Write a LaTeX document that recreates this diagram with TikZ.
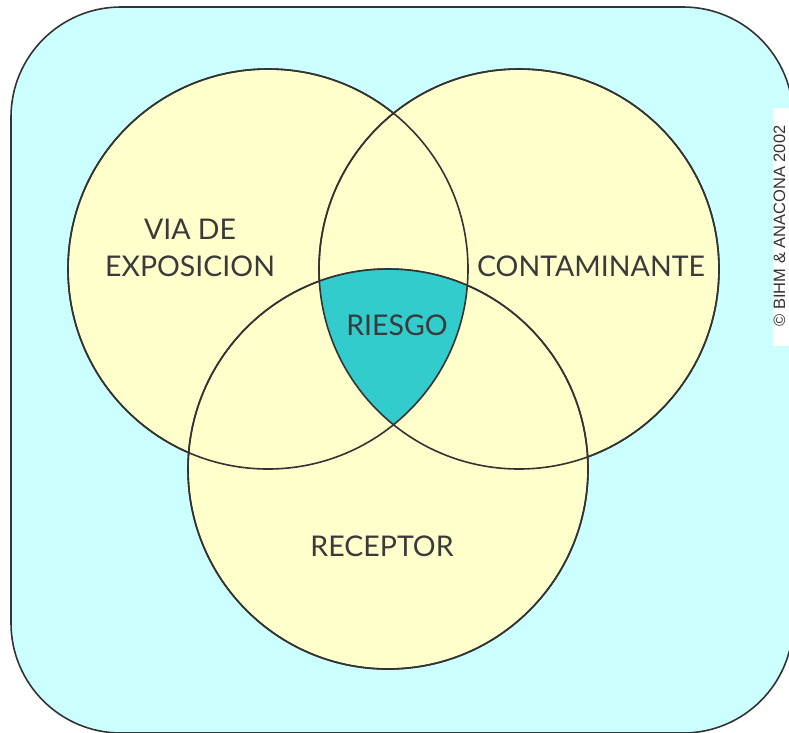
\documentclass[tikz,border=0pt]{standalone}
\usepackage{fontspec}
\setmainfont{Lato}
\newfontfamily\copyfont{Liberation Sans}
\definecolor{bgcyan}{HTML}{CCFFFF}
\definecolor{circfill}{HTML}{FFFFCC}
\definecolor{riskfill}{HTML}{33CCCC}
\definecolor{edge}{HTML}{333333}
\definecolor{txt}{HTML}{3A3A3A}
\tikzset{
  venn/.style={draw=edge, line width=1.6pt, fill=circfill},
  ring/.style={draw=edge, line width=1.6pt},
  lbl/.style={text=txt, font=\fontsize{28.5}{34}\selectfont, align=center, inner sep=0pt},
}
\begin{document}
\begin{tikzpicture}[x=1pt,y=-1pt]
\useasboundingbox (0,0) rectangle (789,732);
\clip (0,0) rectangle (789,732);
\fill[white] (0,0) rectangle (789,732);
\draw[draw=edge, line width=1.6pt, fill=bgcyan, rounded corners=110pt] (11,7) rectangle (793,733);
% copyright stripe
\fill[white] (773,108) rectangle (789,346);
\node[rotate=90, text=edge, font=\copyfont\fontsize{16.5}{16.5}\selectfont, inner sep=0pt] (copy) at (779.5,226) {© BIHM \& ANACONA 2002};
% circles
\path[venn] (268,269) circle[radius=200];
\path[venn] (519,269) circle[radius=200];
\path[venn] (388,469) circle[radius=200];
% intersection
\begin{scope}
  \clip (268,269) circle[radius=200];
  \clip (519,269) circle[radius=200];
  \fill[riskfill] (388,469) circle[radius=200];
\end{scope}
% outlines on top
\draw[ring] (268,269) circle[radius=200];
\draw[ring] (519,269) circle[radius=200];
\draw[ring] (388,469) circle[radius=200];
% labels
\node[lbl] (via) at (190,248) {VIA DE\\[3pt]EXPOSICION};
\node[lbl] (cont) at (591,266) {CONTAMINANTE};
\node[lbl] (riesgo) at (397,325) {RIESGO};
\node[lbl] (recep) at (382,546) {RECEPTOR};
\end{tikzpicture}
\end{document}
